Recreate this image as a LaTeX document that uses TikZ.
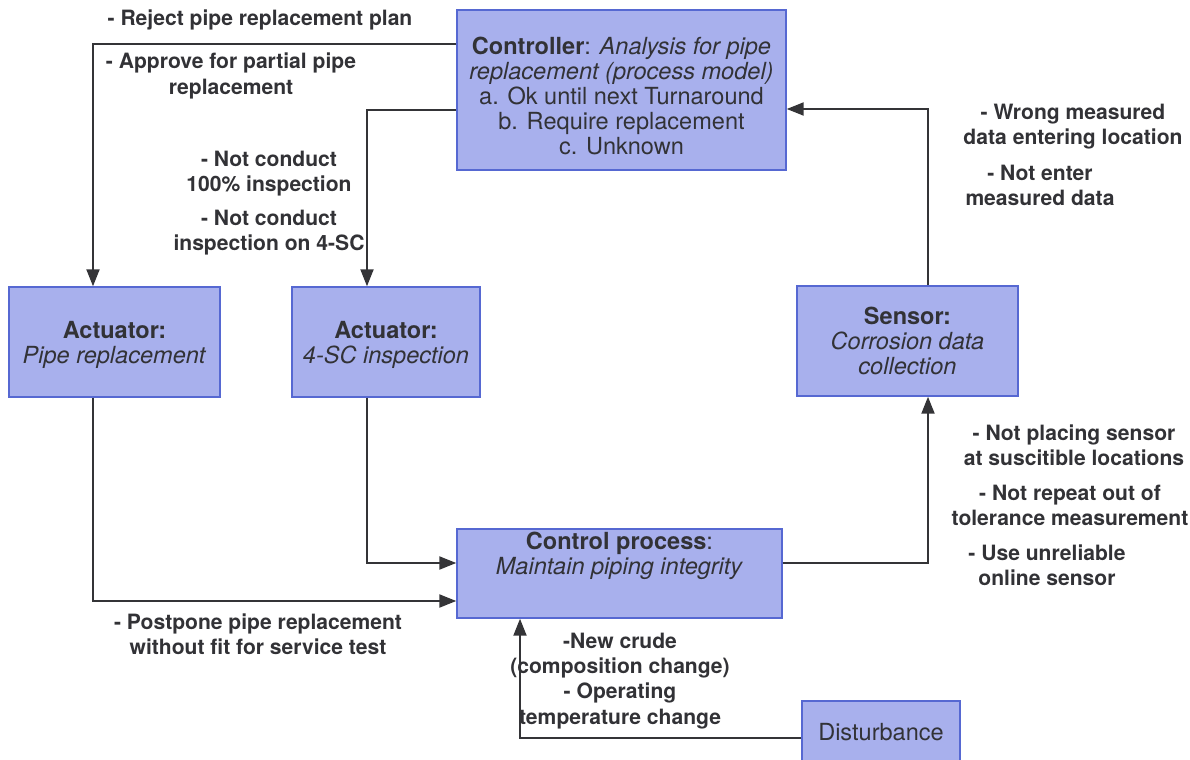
\documentclass[tikz,border=0pt]{standalone}
\usepackage{fontspec}
\setmainfont{TeX Gyre Heros}
\usetikzlibrary{arrows.meta}
\definecolor{boxfill}{RGB}{168,176,237}
\definecolor{boxline}{RGB}{86,104,210}
\definecolor{ink}{RGB}{50,50,54}
\definecolor{wire}{RGB}{52,52,55}
% raises the top of a first line, pushing the box text down
\newcommand{\headroom}[1]{\rule{0pt}{#1}}
\tikzset{
  block/.style={draw=boxline, line width=0.85pt, fill=boxfill, inner sep=0pt,
    align=center, text=ink, font=\fontsize{13.4}{14.2}\selectfont},
  note/.style={align=center, text=ink, inner sep=0pt,
    font=\bfseries\fontsize{12}{14.3}\selectfont},
  conn/.style={draw=wire, line width=1.2pt,
    -{Triangle[length=0.34cm,width=0.26cm]}},
}
\begin{document}
\begin{tikzpicture}[x=0.02cm, y=-0.02cm]
\useasboundingbox (0,0) rectangle (1190,760);

% boxes of the loop
\node[block, minimum width=6.58cm, minimum height=3.2cm] (ctrl) at (621.5,90)
  {\headroom{0.6cm}\textbf{Controller}: \textit{Analysis for pipe}\\
   \textit{replacement (process model)}\\
   a. Ok until next Turnaround\\
   b. Require replacement\\
   c. Unknown};
\node[block, minimum width=4.22cm, minimum height=2.2cm] (act1) at (114.5,342)
  {\headroom{0.45cm}\textbf{Actuator:}\\ \textit{Pipe replacement}};
\node[block, minimum width=3.76cm, minimum height=2.2cm] (act2) at (386,342)
  {\headroom{0.45cm}\textbf{Actuator:}\\ \textit{4-SC inspection}};
\node[block, minimum width=4.42cm, minimum height=2.2cm] (sens) at (907.5,341)
  {\textbf{Sensor:}\\ \textit{Corrosion data}\\ \textit{collection}};
\node[block, minimum width=6.5cm, minimum height=1.78cm] (proc) at (619.5,573.5)
  {\textbf{Control process}:\\ \textit{Maintain piping integrity}\\[0.3cm]};
\node[block, minimum width=3.16cm, minimum height=1.24cm] (dist) at (881,732)
  {Disturbance};

% routing levels and columns of the connectors
\coordinate (rowA) at (0,44);
\coordinate (rowB) at (0,110);
\coordinate (rowC) at (0,563);
\coordinate (rowD) at (0,601);
\coordinate (rowS) at (0,109);
\coordinate (rowE) at (0,738);
\coordinate (colA) at (93,0);
\coordinate (colB) at (367,0);
\coordinate (colS) at (928,0);
\coordinate (colD) at (520,0);

% connectors
\draw[conn] (ctrl.west |- rowA) -| (colA |- act1.north);
\draw[conn] (ctrl.west |- rowB) -| (colB |- act2.north);
\draw[conn] (colB |- act2.south) |- (proc.west |- rowC);
\draw[conn] (colA |- act1.south) |- (proc.west |- rowD);
\draw[conn] (proc.east |- rowC) -| (colS |- sens.south);
\draw[conn] (colS |- sens.north) |- (ctrl.east |- rowS);
\draw[conn] (dist.west |- rowE) -| (colD |- proc.south);

% connector labels
\node[note] (lrej) at (260,20) {- Reject pipe replacement plan};
\node[note] (lapp) at (231,76) {- Approve for partial pipe\\ replacement};
\node[note] (lnc1) at (269,174) {- Not conduct\\ 100\% inspection};
\node[note] (lnc2) at (269,233) {- Not conduct\\ inspection on 4-SC};
\node[note] (lwr) at (1073,127) {- Wrong measured\\ data entering location};
\node[note] (lne) at (1040,185) {- Not enter\\ measured data};
\node[note] (lpl) at (1074,445) {- Not placing sensor\\ at suscitible locations};
\node[note] (lrp) at (1070,505) {- Not repeat out of\\ tolerance measurement};
\node[note] (lur) at (1047,565) {- Use unreliable\\ online sensor};
\node[note] (lpp) at (258,634) {- Postpone pipe replacement\\ without fit for service test};
\node[note] (lnc) at (620,681) {-New crude\\ (composition change)\\ - Operating\\ temperature change};
\end{tikzpicture}
\end{document}
